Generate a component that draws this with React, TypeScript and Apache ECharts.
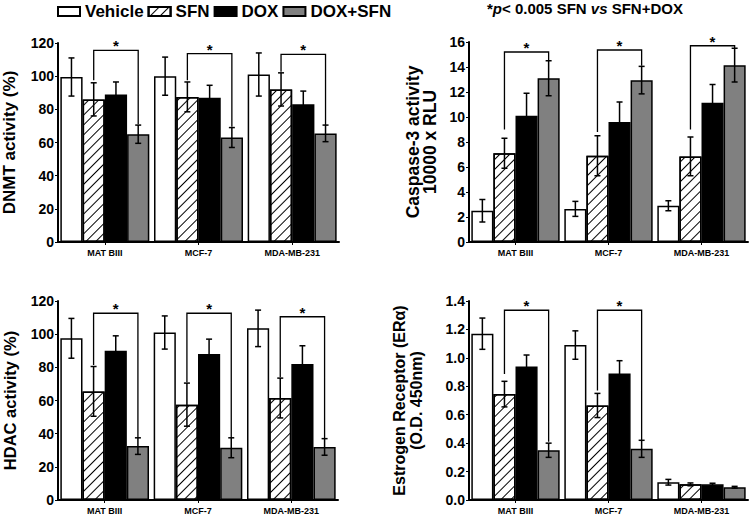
import React, { useEffect, useRef } from "react";
import * as echarts from "echarts";

const categories = ["MAT BIII", "MCF-7", "MDA-MB-231"];
const treatments = ["Vehicle", "SFN", "DOX", "DOX+SFN"];

// rows: Vehicle, SFN, DOX, DOX+SFN ; columns: categories
const dnmtMean = [
  [99.5, 100, 101],
  [86, 87.5, 92],
  [89, 87, 83],
  [65, 63, 65.5],
];
const dnmtErr = [
  [11.5, 11.5, 13],
  [10, 9, 10],
  [7.5, 7.5, 8],
  [5.5, 6, 5],
];
const caspMean = [
  [2.5, 2.65, 2.9],
  [7.1, 6.9, 6.85],
  [10.1, 9.6, 11.15],
  [13.1, 12.95, 14.15],
];
const caspErr = [
  [0.9, 0.6, 0.4],
  [1.2, 1.6, 1.55],
  [1.8, 1.6, 1.45],
  [1.4, 1.1, 1.35],
];
const hdacMean = [
  [97.5, 101, 103.5],
  [65.5, 57.5, 61.5],
  [90, 88, 82],
  [32.5, 31.5, 32],
];
const hdacErr = [
  [12, 10, 11],
  [15, 13, 12],
  [9, 9, 11],
  [5, 6, 5],
];
const erMean = [
  [1.17, 1.09, 0.125],
  [0.745, 0.665, 0.11],
  [0.94, 0.89, 0.11],
  [0.35, 0.36, 0.09],
];
const erErr = [
  [0.11, 0.1, 0.02],
  [0.09, 0.085, 0.01],
  [0.08, 0.09, 0.008],
  [0.05, 0.06, 0.006],
];

// significance brackets: [category index, top, left leg bottom, right leg bottom]
const dnmtBrackets = [
  [0, 115.6, 97.6, 71],
  [1, 113.6, 97.6, 69.5],
  [2, 113.2, 102.6, 70.5],
];
const caspBrackets = [
  [0, 15.2, 9.0, 14.5],
  [1, 15.36, 8.8, 14.1],
  [2, 15.7, 9.0, 15.5],
];
const hdacBrackets = [
  [0, 112.6, 81.4, 37.5],
  [1, 112.6, 71, 37.5],
  [2, 110.5, 74, 37],
];
const erBrackets = [
  [0, 1.335, 0.887, 0.41],
  [1, 1.335, 0.77, 0.42],
];

const yNames = [
  "DNMT activity (%)",
  "Caspase-3 activity\n10000 x RLU",
  "HDAC activity (%)",
  "Estrogen Receptor (ERα)\n(O.D. 450nm)",
];
const yMax = [120, 16, 120, 1.4];
const yInterval = [20, 2, 20, 0.2];

const FONT = "'Liberation Sans', Arial, sans-serif";
const CAT_GAP = 0.05;

const fills = ["#ffffff", "#ffffff", "#000000", "#808080"];
const hatch = {
  symbol: "rect",
  symbolSize: 1,
  color: "#000",
  backgroundColor: "#fff",
  dashArrayX: [1, 0],
  dashArrayY: [1, 6],
  rotation: -Math.PI / 4,
};

export default function App() {
  const ref = useRef<HTMLDivElement>(null);
  useEffect(() => {
    if (!ref.current) return;
    const chart = echarts.init(ref.current, null, { renderer: "svg" });

    const grids = [
      { left: 58, top: 43, width: 281, height: 199 },
      { left: 469, top: 42, width: 279, height: 200 },
      { left: 57, top: 301, width: 281, height: 199 },
      { left: 469, top: 301, width: 279, height: 199 },
    ];
    const nameGaps = [40, 31, 40, 44];
    const nameSizes = [17, 17.5, 16.5, 16];
    const means = [dnmtMean, caspMean, hdacMean, erMean];
    const errs = [dnmtErr, caspErr, hdacErr, erErr];
    const brackets = [dnmtBrackets, caspBrackets, hdacBrackets, erBrackets];

    const xAxes = grids.map((_, i) => ({
      type: "category",
      gridIndex: i,
      data: categories,
      axisLine: { show: true, lineStyle: { color: "#000", width: 2 } },
      axisTick: { show: true, alignWithLabel: true, length: 3, lineStyle: { color: "#000" } },
      axisLabel: { color: "#000", fontSize: 9, fontWeight: "bold", fontFamily: FONT, margin: 6 },
      splitLine: { show: false },
    }));
    const yAxes = grids.map((_, i) => ({
      type: "value",
      gridIndex: i,
      min: 0,
      max: yMax[i],
      interval: yInterval[i],
      name: yNames[i],
      nameLocation: "middle",
      nameRotate: 90,
      nameGap: nameGaps[i],
      nameTextStyle: {
        color: "#000",
        fontSize: nameSizes[i],
        fontWeight: "bold",
        fontFamily: FONT,
        lineHeight: 17,
      },
      axisLine: { show: true, lineStyle: { color: "#000", width: 2 } },
      axisTick: { show: true, length: 3, lineStyle: { color: "#000" } },
      axisLabel: {
        color: "#000",
        fontSize: 14,
        fontWeight: "bold",
        fontFamily: FONT,
        margin: 4,
        formatter: (v: number) => (i === 3 ? v.toFixed(1) : String(v)),
      },
      splitLine: { show: false },
    }));

    const series: any[] = [];
    grids.forEach((_, g) => {
      treatments.forEach((name, t) => {
        series.push({
          type: "bar",
          name,
          xAxisIndex: g,
          yAxisIndex: g,
          data: means[g][t],
          barGap: "0%",
          barCategoryGap: CAT_GAP * 100 + "%",
          itemStyle: {
            color: fills[t],
            borderColor: "#000",
            borderWidth: 1.5,
            ...(t === 1 ? { decal: hatch } : {}),
          },
        });
      });
      const errData: number[][] = [];
      treatments.forEach((_, t) => {
        categories.forEach((_, c) => {
          errData.push([c, t, means[g][t][c], errs[g][t][c]]);
        });
      });
      series.push({
        type: "custom",
        xAxisIndex: g,
        yAxisIndex: g,
        z: 4,
        clip: false,
        encode: { x: 0, y: 2 },
        data: errData,
        silent: true,
        renderItem: (params: any, api: any) => {
          const c = api.value(0);
          const t = api.value(1);
          const v = api.value(2);
          const e = api.value(3);
          const band = api.size([1, 0])[0];
          const bw = (band * (1 - CAT_GAP)) / 4;
          const p = api.coord([c, v]);
          const x = p[0] + (t - 1.5) * bw;
          const yt = api.coord([c, v + e])[1];
          const yb = api.coord([c, Math.max(0, v - e)])[1];
          const cap = 3;
          const st = { stroke: "#000", lineWidth: 1.5 };
          return {
            type: "group",
            children: [
              { type: "line", shape: { x1: x, y1: yt, x2: x, y2: yb }, style: st },
              { type: "line", shape: { x1: x - cap, y1: yt, x2: x + cap, y2: yt }, style: st },
              { type: "line", shape: { x1: x - cap, y1: yb, x2: x + cap, y2: yb }, style: st },
            ],
          };
        },
      });
      series.push({
        type: "custom",
        xAxisIndex: g,
        yAxisIndex: g,
        z: 5,
        clip: false,
        silent: true,
        encode: { x: 0, y: 1 },
        data: brackets[g],
        renderItem: (params: any, api: any) => {
          const c = api.value(0);
          const band = api.size([1, 0])[0];
          const bw = (band * (1 - CAT_GAP)) / 4;
          const p = api.coord([c, api.value(1)]);
          const xl = p[0] - 0.5 * bw;
          const xr = p[0] + 1.5 * bw;
          const yt = p[1];
          const yl = api.coord([c, api.value(2)])[1];
          const yr = api.coord([c, api.value(3)])[1];
          return {
            type: "group",
            children: [
              {
                type: "polyline",
                shape: { points: [[xl, yl], [xl, yt], [xr, yt], [xr, yr]] },
                style: { stroke: "#000", lineWidth: 1.3, fill: "none" },
              },
              {
                type: "text",
                x: (xl + xr) / 2,
                y: yt + 3,
                style: {
                  text: "*",
                  fontSize: 15,
                  fontWeight: "bold",
                  fontFamily: FONT,
                  fill: "#000",
                  align: "center",
                  verticalAlign: "bottom",
                },
              },
            ],
          };
        },
      });
    });

    chart.setOption({
      animation: false,
      backgroundColor: "#fff",
      title: {
        text: "*{i|p}< 0.005 SFN {i|vs} SFN+DOX",
        left: 487,
        top: 1,
        padding: 0,
        textStyle: {
          color: "#000",
          fontSize: 15,
          fontWeight: "bold",
          fontFamily: FONT,
          rich: {
            i: { fontStyle: "italic", fontWeight: "bold", fontSize: 15, fontFamily: FONT, color: "#000" },
          },
        },
      },
      legend: {
        data: treatments,
        left: 57,
        top: 3,
        padding: 0,
        itemWidth: 22,
        itemHeight: 9,
        itemGap: 4,
        icon: "rect",
        selectedMode: false,
        textStyle: { color: "#000", fontSize: 17, fontWeight: "bold", fontFamily: FONT },
      },
      grid: grids,
      xAxis: xAxes,
      yAxis: yAxes,
      series,
    });
    return () => chart.dispose();
  }, []);
  return (
    <div
      ref={ref}
      style={{ position: "absolute", left: 0, top: 0, width: 750, height: 515 }}
    />
  );
}
